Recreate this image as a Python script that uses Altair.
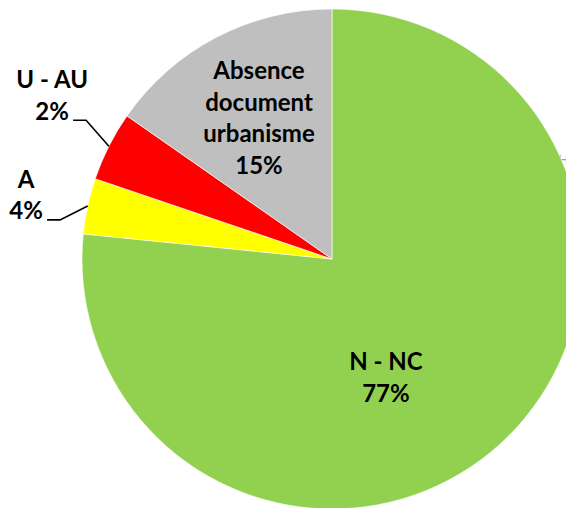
import altair as alt
import pandas as pd
import numpy as np

# ---- data ----
categories = ["N - NC", "A", "U - AU", "Absence document urbanisme"]
values = [76.6, 3.6, 4.5, 15.3]          # slice sizes (clockwise from 12 o'clock)
pct_labels = ["77%", "4%", "2%", "15%"]
name_lines = [["N - NC"], ["A"], ["U - AU"], ["Absence", "document", "urbanisme"]]
colors = ["#92D050", "#FFFF00", "#FF0000", "#BFBFBF"]
outside = [False, True, True, False]     # labels with a leader line

# ---- layout ----
W, H = 558, 500
CX, CY, R = 324, 251, 250
FONT = "Lato"
FS = 24
LH = 31.5
# label placement (polar, around pie centre): angle in degrees clockwise from top, radius px
label_theta = [154.1, 283.1, 301.4, 337.9]
label_r = [123.4, 314.1, 327.9, 194.0]

df = pd.DataFrame({"cat": categories, "value": values, "order": list(range(len(values)))})

pie = alt.Chart(df).mark_arc(radius=R, stroke="white", strokeWidth=0.6).encode(
    theta=alt.Theta("value:Q", stack=True),
    order=alt.Order("order:Q"),
    color=alt.Color("cat:N", scale=alt.Scale(domain=categories, range=colors), legend=None),
    x=alt.value(CX),
    y=alt.value(CY),
)

# label table
rows = []
lines_rows = []
total = sum(values)
cum = np.cumsum([0] + values)
for i, cat in enumerate(categories):
    t = np.deg2rad(label_theta[i])
    lx = CX + label_r[i] * np.sin(t)
    ly = CY - label_r[i] * np.cos(t)
    lines = name_lines[i] + [pct_labels[i]]
    rows.append({"txt": "\n".join(lines), "px": lx, "py": ly})
    if outside[i]:
        last_base = ly + (len(lines) - 1) * LH + 0.6
        mid = np.deg2rad((cum[i] + cum[i + 1]) / 2 / total * 360)
        ex = CX + R * np.sin(mid)
        ey = CY - R * np.cos(mid)
        pts = [(lx + 21, last_base), (lx + 34, last_base), (ex, ey)]
        for k, (a, b) in enumerate(pts):
            lines_rows.append({"cat": cat, "seq": k, "px": a, "py": b})

lab = pd.DataFrame(rows)
lead = pd.DataFrame(lines_rows)

labels = alt.Chart(lab).mark_text(
    font=FONT, fontSize=FS, fontWeight="bold", color="black",
    align="center", baseline="alphabetic", lineBreak="\n", lineHeight=LH,
).encode(
    x=alt.X("px:Q", scale=None),
    y=alt.Y("py:Q", scale=None),
    text="txt:N",
)

leaders = alt.Chart(lead).mark_line(color="black", strokeWidth=1.6).encode(
    x=alt.X("px:Q", scale=None),
    y=alt.Y("py:Q", scale=None),
    detail="cat:N",
    order="seq:Q",
)

# partially hidden legend text behind the pie on the right
bg = pd.DataFrame({"txt": ["HA", "A"], "px": [550, 550], "py": [157, 175]})
bgtext = alt.Chart(bg).mark_text(
    font="Liberation Sans", fontSize=15, color="#A0A0A0", align="left", baseline="alphabetic"
).encode(
    x=alt.X("px:Q", scale=None),
    y=alt.Y("py:Q", scale=None),
    text="txt:N",
)

chart = alt.layer(bgtext, pie, leaders, labels).properties(
    width=W, height=H, autosize="none", padding=0
).configure_view(stroke=None)

chart.save("out.html", embed_options={"renderer": "svg", "actions": False})
